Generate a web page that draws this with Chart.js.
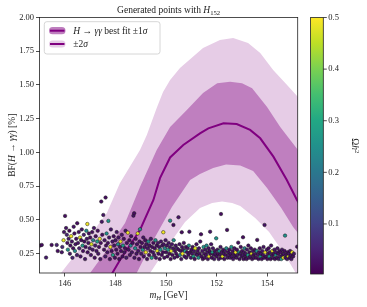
<!DOCTYPE html>
<html>
<head>
<meta charset="utf-8">
<script src="https://cdn.jsdelivr.net/npm/chart.js@4.4.1/dist/chart.umd.min.js"></script>
<style>
  html, body { margin: 0; padding: 0; background: #fff; }
  #wrap { width: 367px; height: 307px; }
</style>
</head>
<body>
<div id="wrap"><canvas id="chart" width="367" height="307"></canvas></div>
<script>
// axis ranges and ticks
const xMin = 145, xMax = 155.2;
const yMin = 0.107, yMax = 2.0;
const xTickValues = [146, 148, 150, 152, 154];
const yTickValues = [0.25, 0.5, 0.75, 1.0, 1.25, 1.5, 1.75, 2.0];
const cbarMin = 0.003, cbarMax = 0.5;
const cbarTickValues = [0.1, 0.2, 0.3, 0.4, 0.5];

// best fit curve and sigma band edges (m_H in GeV, BF in %)
const lineMass = [147.25, 147.85, 148.18, 148.97, 149.5, 149.76, 150.16, 150.68, 151.34, 151.67, 152.27, 152.79, 153.32, 153.72, 154.24, 154.77, 155.17, 155.5];
const lineBF = [-0.1, 0.098, 0.204, 0.426, 0.648, 0.81, 0.963, 1.056, 1.142, 1.179, 1.216, 1.211, 1.167, 1.105, 0.969, 0.796, 0.648, 0.55];

const upper1Mass = [146.2, 147.0, 147.66, 148.38, 148.97, 149.63, 150.16, 150.82, 151.46, 152.02, 152.53, 153.0, 153.4, 153.99, 154.51, 155.21, 155.5];
const upper1BF = [-0.1, 0.107, 0.278, 0.478, 0.744, 1.019, 1.189, 1.315, 1.441, 1.513, 1.524, 1.513, 1.476, 1.337, 1.189, 1.019, 0.98];
const lower1Mass = [148.29, 148.84, 149.5, 150.23, 150.95, 151.34, 151.86, 152.37, 152.93, 153.44, 153.99, 154.55, 155.02, 155.21, 155.5];
const lower1BF = [-0.1, 0.107, 0.352, 0.596, 0.796, 0.841, 0.885, 0.911, 0.904, 0.863, 0.737, 0.589, 0.448, 0.404, 0.36];

const upper2Mass = [145.0, 145.85, 145.94, 146.87, 147.66, 148.18, 148.97, 149.24, 149.63, 149.88, 150.16, 150.55, 151.46, 152.13, 152.65, 153.24, 153.72, 154.23, 154.78, 155.21, 155.5];
const upper2BF = [-0.1, 0.107, 0.13, 0.352, 0.552, 0.774, 1.019, 1.13, 1.33, 1.448, 1.537, 1.626, 1.774, 1.833, 1.848, 1.811, 1.737, 1.611, 1.5, 1.411, 1.37];
const lower2Mass = [148.63, 149.37, 149.76, 150.24, 150.75, 151.34, 151.82, 152.21, 152.61, 152.93, 153.52, 154.07, 154.7, 155.1, 155.76];
const lower2BF = [-0.1, 0.107, 0.219, 0.352, 0.485, 0.589, 0.626, 0.637, 0.626, 0.604, 0.515, 0.411, 0.241, 0.115, -0.1];

// generated points: mass, BF and relic density
const scatterMass = [
  145.02, 145.09, 145.26, 145.48, 145.68, 145.88, 145.72, 145.95, 145.9, 145.97,
  146.01, 146.05, 146.08, 146.1, 146.12, 146.15, 146.18, 146.2, 146.22, 146.25, 146.28, 146.3, 146.33, 146.35, 146.38, 146.4, 146.42, 146.45, 146.48, 146.49,
  146.52, 146.55, 146.57, 146.6, 146.62, 146.65, 146.67, 146.7, 146.72, 146.75, 146.77, 146.8, 146.82, 146.85, 146.87, 146.89, 146.9, 146.93, 146.95, 146.98,
  147.0, 147.03, 147.05, 147.08, 147.1, 147.12, 147.15, 147.18, 147.2, 147.22, 147.25, 147.28, 147.3, 147.32, 147.35, 147.38, 147.4, 147.42, 147.44, 147.46, 147.48, 147.52,
  147.55, 147.57, 147.6, 147.61, 147.63, 147.65, 147.68, 147.7, 147.72, 147.75, 147.78, 147.8, 147.82, 147.85, 147.88, 147.9, 147.93, 147.95, 147.98,
  148.0, 148.03, 148.05, 148.08, 148.1, 148.12, 148.15, 148.18, 148.2, 148.22, 148.25, 148.28, 148.3, 148.33, 148.35, 148.38, 148.4, 148.43, 148.45, 148.49,
  148.52, 148.55, 148.57, 148.6, 148.62, 148.65, 148.68, 148.71, 148.74, 148.75, 148.78, 148.8, 148.83, 148.85, 148.88, 148.9, 148.93, 148.95, 148.97, 148.99,
  149.02, 149.05, 149.08, 149.1, 149.12, 149.15, 149.18, 149.2, 149.22, 149.25, 149.28, 149.3, 149.33, 149.35, 149.38, 149.4, 149.43, 149.45, 149.48,
  149.5, 149.53, 149.55, 149.58, 149.6, 149.63, 149.65, 149.68, 149.7, 149.73, 149.75, 149.78, 149.8, 149.83, 149.85, 149.88, 149.89, 149.9, 149.93, 149.95, 149.98,
  150.0, 150.03, 150.05, 150.08, 150.1, 150.13, 150.15, 150.16, 150.18, 150.2, 150.23, 150.25, 150.28, 150.29, 150.3, 150.33, 150.35, 150.38, 150.4, 150.43, 150.45, 150.49,
  150.5, 150.53, 150.55, 150.58, 150.6, 150.62, 150.63, 150.65, 150.68, 150.7, 150.73, 150.75, 150.78, 150.8, 150.83, 150.85, 150.88, 150.9, 150.92, 150.95, 150.98,
  151.0, 151.03, 151.05, 151.08, 151.1, 151.13, 151.15, 151.18, 151.2, 151.23, 151.25, 151.28, 151.3, 151.33, 151.35, 151.38, 151.4, 151.43, 151.45, 151.48,
  151.5, 151.53, 151.55, 151.58, 151.6, 151.63, 151.65, 151.68, 151.7, 151.72, 151.74, 151.75, 151.78, 151.8, 151.83, 151.85, 151.88, 151.9, 151.93, 151.95, 151.98,
  152.0, 152.03, 152.05, 152.08, 152.1, 152.13, 152.15, 152.17, 152.18, 152.2, 152.23, 152.25, 152.28, 152.3, 152.33, 152.35, 152.38, 152.41, 152.43, 152.45, 152.48,
  152.5, 152.53, 152.55, 152.58, 152.6, 152.63, 152.65, 152.68, 152.7, 152.73, 152.75, 152.78, 152.8, 152.83, 152.85, 152.88, 152.9, 152.93, 152.95, 152.98,
  153.0, 153.03, 153.04, 153.06, 153.08, 153.1, 153.13, 153.15, 153.18, 153.2, 153.23, 153.25, 153.28, 153.3, 153.33, 153.35, 153.38, 153.4, 153.43, 153.45, 153.48,
  153.5, 153.53, 153.55, 153.58, 153.6, 153.63, 153.65, 153.68, 153.7, 153.73, 153.75, 153.78, 153.8, 153.83, 153.85, 153.88, 153.89, 153.92, 153.95, 153.98,
  154.0, 154.03, 154.05, 154.08, 154.1, 154.13, 154.15, 154.18, 154.2, 154.23, 154.25, 154.28, 154.3, 154.33, 154.35, 154.38, 154.4, 154.43, 154.45, 154.48,
  154.5, 154.53, 154.55, 154.58, 154.6, 154.63, 154.65, 154.68, 154.7, 154.72, 154.75, 154.78, 154.8, 154.83, 154.85, 154.88, 154.9, 154.93, 154.95, 154.98, 155.02, 155.05, 155.18
];
const scatterBF = [
  0.31, 0.315, 0.221, 0.315, 0.315, 0.261, 0.27, 0.35, 0.30, 0.41,
  0.53, 0.44, 0.39, 0.33, 0.28, 0.36, 0.42, 0.25, 0.31, 0.38, 0.34, 0.22, 0.29, 0.45, 0.40, 0.27, 0.32, 0.36, 0.24, 0.476,
  0.33, 0.41, 0.29, 0.37, 0.23, 0.35, 0.43, 0.31, 0.27, 0.39, 0.34, 0.21, 0.30, 0.42, 0.36, 0.47, 0.26, 0.33, 0.40, 0.29,
  0.37, 0.24, 0.32, 0.41, 0.28, 0.35, 0.44, 0.22, 0.31, 0.38, 0.27, 0.34, 0.42, 0.25, 0.30, 0.36, 0.21, 0.33, 0.636, 0.487, 0.39, 0.537,
  0.28, 0.35, 0.23, 0.666, 0.31, 0.40, 0.26, 0.33, 0.493, 0.37, 0.21, 0.30, 0.43, 0.27, 0.34, 0.24, 0.38, 0.31, 0.22,
  0.35, 0.28, 0.41, 0.25, 0.32, 0.37, 0.21, 0.30, 0.34, 0.27, 0.39, 0.23, 0.31, 0.36, 0.26, 0.29, 0.42, 0.22, 0.33, 0.406,
  0.28, 0.35, 0.24, 0.31, 0.38, 0.26, 0.33, 0.532, 0.55, 0.22, 0.29, 0.36, 0.25, 0.32, 0.40, 0.27, 0.21, 0.34, 0.431, 0.30,
  0.25, 0.33, 0.28, 0.37, 0.23, 0.30, 0.35, 0.26, 0.32, 0.21, 0.29, 0.34, 0.24, 0.31, 0.27, 0.36, 0.22, 0.30, 0.26,
  0.33, 0.24, 0.29, 0.35, 0.22, 0.31, 0.27, 0.33, 0.25, 0.30, 0.21, 0.28, 0.34, 0.24, 0.31, 0.26, 0.409, 0.32, 0.22, 0.29, 0.35,
  0.26, 0.31, 0.23, 0.28, 0.33, 0.25, 0.30, 0.495, 0.21, 0.27, 0.32, 0.24, 0.29, 0.463, 0.35, 0.22, 0.27, 0.31, 0.25, 0.29, 0.23, 0.52,
  0.28, 0.32, 0.24, 0.27, 0.21, 0.409, 0.30, 0.25, 0.28, 0.33, 0.23, 0.27, 0.30, 0.22, 0.26, 0.29, 0.24, 0.31, 0.413, 0.26, 0.22,
  0.28, 0.25, 0.30, 0.23, 0.27, 0.21, 0.29, 0.25, 0.32, 0.24, 0.27, 0.22, 0.29, 0.25, 0.34, 0.394, 0.23, 0.27, 0.21, 0.30,
  0.25, 0.22, 0.28, 0.24, 0.31, 0.26, 0.21, 0.29, 0.23, 0.27, 0.413, 0.25, 0.32, 0.22, 0.26, 0.29, 0.24, 0.21, 0.27, 0.25, 0.364,
  0.23, 0.28, 0.25, 0.21, 0.27, 0.24, 0.30, 0.544, 0.22, 0.26, 0.23, 0.28, 0.25, 0.21, 0.27, 0.24, 0.29, 0.426, 0.22, 0.26, 0.24,
  0.28, 0.22, 0.25, 0.30, 0.23, 0.27, 0.21, 0.25, 0.29, 0.23, 0.26, 0.22, 0.28, 0.24, 0.332, 0.26, 0.21, 0.25, 0.30, 0.23,
  0.27, 0.24, 0.372, 0.21, 0.26, 0.29, 0.23, 0.25, 0.21, 0.28, 0.24, 0.31, 0.22, 0.26, 0.23, 0.29, 0.25, 0.21, 0.27, 0.24, 0.22,
  0.28, 0.25, 0.22, 0.27, 0.352, 0.24, 0.21, 0.26, 0.29, 0.23, 0.25, 0.21, 0.27, 0.24, 0.30, 0.22, 0.463, 0.26, 0.23, 0.28,
  0.21, 0.25, 0.29, 0.23, 0.26, 0.21, 0.31, 0.24, 0.27, 0.22, 0.25, 0.28, 0.21, 0.24, 0.26, 0.22, 0.29, 0.25, 0.21, 0.27,
  0.23, 0.26, 0.21, 0.28, 0.24, 0.22, 0.25, 0.27, 0.384, 0.22, 0.24, 0.21, 0.26, 0.23, 0.25, 0.22, 0.27, 0.24, 0.21, 0.26, 0.23, 0.25, 0.302
];
const scatterOmega = [
  0.03, 0.02, 0.04, 0.02, 0.05, 0.03, 0.02, 0.48, 0.06, 0.03,
  0.02, 0.03, 0.05, 0.02, 0.26, 0.04, 0.01, 0.03, 0.02, 0.49, 0.03, 0.05, 0.02, 0.03, 0.02, 0.24, 0.03, 0.02, 0.04, 0.02,
  0.03, 0.02, 0.05, 0.48, 0.03, 0.02, 0.03, 0.27, 0.02, 0.04, 0.02, 0.03, 0.02, 0.25, 0.03, 0.49, 0.02, 0.03, 0.02, 0.04,
  0.02, 0.03, 0.47, 0.02, 0.03, 0.22, 0.03, 0.02, 0.04, 0.02, 0.03, 0.29, 0.02, 0.03, 0.02, 0.48, 0.03, 0.02, 0.02, 0.03, 0.02, 0.03,
  0.02, 0.03, 0.04, 0.02, 0.02, 0.25, 0.03, 0.02, 0.26, 0.03, 0.02, 0.49, 0.03, 0.02, 0.03, 0.28, 0.02, 0.03, 0.02,
  0.03, 0.02, 0.03, 0.02, 0.24, 0.03, 0.02, 0.03, 0.48, 0.02, 0.03, 0.02, 0.27, 0.02, 0.03, 0.02, 0.03, 0.04, 0.02, 0.49,
  0.03, 0.02, 0.03, 0.23, 0.02, 0.03, 0.02, 0.03, 0.02, 0.03, 0.25, 0.02, 0.03, 0.02, 0.48, 0.03, 0.02, 0.03, 0.26, 0.02,
  0.03, 0.02, 0.27, 0.03, 0.02, 0.03, 0.02, 0.49, 0.03, 0.02, 0.03, 0.24, 0.02, 0.03, 0.02, 0.03, 0.28, 0.02, 0.03,
  0.02, 0.03, 0.02, 0.25, 0.03, 0.02, 0.48, 0.03, 0.02, 0.03, 0.02, 0.26, 0.03, 0.02, 0.03, 0.02, 0.49, 0.03, 0.02, 0.23, 0.03,
  0.02, 0.03, 0.02, 0.27, 0.03, 0.02, 0.03, 0.26, 0.02, 0.48, 0.03, 0.02, 0.03, 0.02, 0.25, 0.03, 0.02, 0.03, 0.02, 0.04, 0.02, 0.03,
  0.02, 0.03, 0.22, 0.02, 0.03, 0.02, 0.02, 0.49, 0.03, 0.02, 0.03, 0.26, 0.02, 0.03, 0.02, 0.03, 0.02, 0.24, 0.03, 0.02, 0.03,
  0.02, 0.03, 0.02, 0.27, 0.03, 0.02, 0.48, 0.03, 0.02, 0.03, 0.02, 0.25, 0.03, 0.02, 0.03, 0.02, 0.02, 0.03, 0.02, 0.26,
  0.03, 0.02, 0.03, 0.02, 0.24, 0.03, 0.02, 0.03, 0.49, 0.02, 0.03, 0.02, 0.03, 0.02, 0.27, 0.03, 0.02, 0.03, 0.02, 0.03, 0.26,
  0.02, 0.03, 0.02, 0.03, 0.25, 0.02, 0.03, 0.02, 0.02, 0.03, 0.48, 0.02, 0.03, 0.02, 0.03, 0.02, 0.23, 0.02, 0.03, 0.02, 0.03,
  0.02, 0.03, 0.02, 0.26, 0.03, 0.02, 0.03, 0.02, 0.03, 0.02, 0.49, 0.03, 0.02, 0.03, 0.02, 0.24, 0.02, 0.03, 0.02, 0.03,
  0.02, 0.03, 0.02, 0.02, 0.03, 0.22, 0.02, 0.03, 0.02, 0.03, 0.27, 0.02, 0.03, 0.02, 0.03, 0.02, 0.48, 0.02, 0.03, 0.02, 0.03,
  0.02, 0.03, 0.02, 0.25, 0.02, 0.03, 0.02, 0.03, 0.02, 0.26, 0.03, 0.02, 0.03, 0.02, 0.03, 0.02, 0.03, 0.49, 0.02, 0.03,
  0.02, 0.03, 0.02, 0.27, 0.03, 0.02, 0.03, 0.02, 0.48, 0.03, 0.02, 0.03, 0.02, 0.24, 0.03, 0.02, 0.03, 0.02, 0.03, 0.02,
  0.03, 0.02, 0.26, 0.03, 0.02, 0.49, 0.03, 0.02, 0.25, 0.03, 0.02, 0.03, 0.02, 0.48, 0.03, 0.02, 0.03, 0.02, 0.03, 0.49, 0.02, 0.03, 0.02
];

const serif = '"Liberation Serif", "DejaVu Serif", serif';
const purple = "#800080";
const band1Color = "#bf7fbf";
const band2Color = "#e6cce6";

// viridis lookup (matplotlib colormap anchors)
const viridis = ["#440154", "#482475", "#414487", "#355f8d", "#2a788e", "#21918c", "#22a884", "#44bf70", "#7ad151", "#bddf26", "#fde725"];

function hexToRgb(hex) {
  const n = parseInt(hex.slice(1), 16);
  return [(n >> 16) & 255, (n >> 8) & 255, n & 255];
}

function viridisAt(t) {
  const tt = Math.min(1, Math.max(0, t)) * (viridis.length - 1);
  const i = Math.min(viridis.length - 2, Math.floor(tt));
  const f = tt - i;
  const a = hexToRgb(viridis[i]);
  const b = hexToRgb(viridis[i + 1]);
  const c = a.map((v, k) => Math.round(v + (b[k] - v) * f));
  return `rgb(${c[0]}, ${c[1]}, ${c[2]})`;
}

function toPoints(xs, ys) {
  return xs.map((x, i) => ({ x, y: ys[i] }));
}

const nPts = Math.min(scatterMass.length, scatterBF.length, scatterOmega.length);
const scatterData = toPoints(scatterMass.slice(0, nPts), scatterBF);
const scatterColors = scatterOmega
  .slice(0, nPts)
  .map((w) => viridisAt((w - cbarMin) / (cbarMax - cbarMin)));

// closed polygons: upper edge left to right, lower edge back
const band1Poly = toPoints(upper1Mass, upper1BF).concat(toPoints(lower1Mass, lower1BF).reverse());
const band2Poly = toPoints(upper2Mass, upper2BF).concat(toPoints(lower2Mass, lower2BF).reverse());

// text with italic / sub / superscript runs
function drawRich(ctx, parts, x, y, size, align) {
  const runs = parts.map(([txt, kind]) => {
    const small = kind === "sub" || kind === "isub" || kind === "sup";
    const italic = kind === "i" || kind === "isub";
    const s = small ? size * 0.7 : size;
    const font = `${italic ? "italic " : ""}${s}px ${serif}`;
    ctx.font = font;
    const dy = kind === "sub" || kind === "isub" ? size * 0.25 : kind === "sup" ? -size * 0.38 : 0;
    return { txt, font, dy, w: ctx.measureText(txt).width };
  });
  const total = runs.reduce((acc, r) => acc + r.w, 0);
  let cx = align === "center" ? x - total / 2 : align === "right" ? x - total : x;
  ctx.textAlign = "left";
  ctx.textBaseline = "alphabetic";
  runs.forEach((r) => {
    ctx.font = r.font;
    ctx.fillText(r.txt, cx, y + r.dy);
    cx += r.w;
  });
}

const decorPlugin = {
  id: "decor",
  afterDraw(chart) {
    const { ctx, chartArea: a } = chart;
    ctx.save();
    ctx.fillStyle = "#222";

    // axes frame
    ctx.strokeStyle = "#222";
    ctx.lineWidth = 0.8;
    ctx.strokeRect(a.left, a.top, a.right - a.left, a.bottom - a.top);

    const midX = (a.left + a.right) / 2;
    drawRich(ctx, [["Generated points with ", ""], ["H", "i"], ["152", "sub"]], midX, 12.5, 9.5, "center");
    drawRich(ctx, [["m", "i"], ["H", "isub"], [" [GeV]", ""]], midX, 298, 9.5, "center");

    ctx.save();
    ctx.translate(14.5, (a.top + a.bottom) / 2);
    ctx.rotate(-Math.PI / 2);
    drawRich(ctx, [["BF(", ""], ["H", "i"], [" \u2192 ", ""], ["\u03b3\u03b3", "i"], [") [%]", ""]], 0, 0, 9.5, "center");
    ctx.restore();

    // legend
    const lx = 44.3, ly = 21.7, lw = 115.7, lh = 32.3;
    ctx.beginPath();
    ctx.roundRect(lx, ly, lw, lh, 2.5);
    ctx.fillStyle = "rgba(255,255,255,0.85)";
    ctx.fill();
    ctx.strokeStyle = "#cccccc";
    ctx.lineWidth = 0.8;
    ctx.stroke();
    const entries = [
      { y: 30.7, fill: band1Color, parts: [["H", "i"], [" \u2192 ", ""], ["\u03b3\u03b3", "i"], [" best fit \u00b11", ""], ["\u03c3", "i"]] },
      { y: 44.0, fill: band2Color, parts: [["\u00b12", ""], ["\u03c3", "i"]] },
    ];
    entries.forEach((e) => {
      ctx.beginPath();
      ctx.roundRect(49, e.y - 3.6, 16.5, 7.2, 3.6);
      ctx.fillStyle = e.fill;
      ctx.fill();
      ctx.beginPath();
      ctx.moveTo(50, e.y);
      ctx.lineTo(64.5, e.y);
      ctx.strokeStyle = purple;
      ctx.lineWidth = 2;
      ctx.stroke();
      ctx.fillStyle = "#222";
      drawRich(ctx, e.parts, 73.3, e.y + 3.2, 9.5, "left");
    });

    // colorbar
    const cx0 = 310.6, cx1 = 323.3, cTop = a.top, cBot = 274;
    const grad = ctx.createLinearGradient(0, cBot, 0, cTop);
    for (let i = 0; i <= 20; i += 1) grad.addColorStop(i / 20, viridisAt(i / 20));
    ctx.fillStyle = grad;
    ctx.fillRect(cx0, cTop, cx1 - cx0, cBot - cTop);
    ctx.strokeStyle = "#222";
    ctx.lineWidth = 0.8;
    ctx.strokeRect(cx0, cTop, cx1 - cx0, cBot - cTop);
    ctx.fillStyle = "#222";
    ctx.font = `8.5px ${serif}`;
    ctx.textAlign = "left";
    ctx.textBaseline = "middle";
    cbarTickValues.forEach((v) => {
      const ty = cBot - ((v - cbarMin) / (cbarMax - cbarMin)) * (cBot - cTop);
      ctx.beginPath();
      ctx.moveTo(cx1, ty);
      ctx.lineTo(cx1 + 3.5, ty);
      ctx.stroke();
      ctx.fillText(v.toFixed(1), cx1 + 5, ty);
    });

    ctx.save();
    ctx.translate(351.5, (cTop + cBot) / 2);
    ctx.rotate(Math.PI / 2);
    ctx.fillStyle = "#222";
    drawRich(ctx, [["\u03a9", ""], ["h", "i"], ["2", "sup"]], 0, 0, 9.5, "center");
    ctx.restore();

    ctx.restore();
  },
};

const tickFont = { family: serif, size: 8.5 };

new Chart(document.getElementById("chart"), {
  type: "scatter",
  data: {
    datasets: [
      {
        label: "points",
        data: scatterData,
        pointBackgroundColor: scatterColors,
        pointBorderColor: "#1a1a1a",
        pointBorderWidth: 0.5,
        pointRadius: 1.75,
        showLine: false,
      },
      {
        label: "best fit",
        data: toPoints(lineMass, lineBF),
        showLine: true,
        borderColor: purple,
        borderWidth: 2,
        pointRadius: 0,
        fill: false,
      },
      {
        label: "1 sigma",
        data: band1Poly,
        showLine: true,
        borderColor: "rgba(0,0,0,0)",
        borderWidth: 0,
        backgroundColor: band1Color,
        pointRadius: 0,
        fill: "shape",
      },
      {
        label: "2 sigma",
        data: band2Poly,
        showLine: true,
        borderColor: "rgba(0,0,0,0)",
        borderWidth: 0,
        backgroundColor: band2Color,
        pointRadius: 0,
        fill: "shape",
      },
    ],
  },
  options: {
    responsive: false,
    animation: false,
    devicePixelRatio: 1,
    layout: { padding: { top: 17.5, right: 69.3, left: 0, bottom: 0 } },
    plugins: {
      legend: { display: false },
      tooltip: { enabled: false },
      title: { display: false },
    },
    scales: {
      x: {
        type: "linear",
        min: xMin,
        max: xMax,
        afterBuildTicks: (axis) => {
          axis.ticks = xTickValues.map((v) => ({ value: v }));
        },
        afterFit: (axis) => {
          axis.height = 34;
        },
        ticks: { color: "#222", font: tickFont, padding: 2, maxRotation: 0, callback: (v) => String(v) },
        grid: { drawOnChartArea: false, drawTicks: true, tickLength: 3.5, tickColor: "#222", tickWidth: 0.8 },
        border: { display: false },
      },
      y: {
        type: "linear",
        min: yMin,
        max: yMax,
        afterBuildTicks: (axis) => {
          axis.ticks = yTickValues.map((v) => ({ value: v }));
        },
        afterFit: (axis) => {
          axis.width = 39.5;
        },
        ticks: { color: "#222", font: tickFont, padding: 2, callback: (v) => Number(v).toFixed(2) },
        grid: { drawOnChartArea: false, drawTicks: true, tickLength: 3.5, tickColor: "#222", tickWidth: 0.8 },
        border: { display: false },
      },
    },
  },
  plugins: [decorPlugin],
});
</script>
</body>
</html>
